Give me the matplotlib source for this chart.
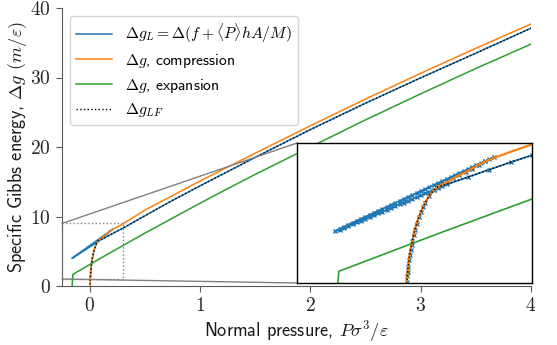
import matplotlib
matplotlib.use("Agg")
import matplotlib.pyplot as plt
from matplotlib.ticker import FuncFormatter
from matplotlib.patches import Rectangle, ConnectionPatch

plt.rcParams["font.family"] = ["cmss10", "DejaVu Sans"]
plt.rcParams["mathtext.fontset"] = "cm"
plt.rcParams["axes.formatter.use_mathtext"] = True
plt.rcParams["font.size"] = 13

# --- compression (gas branch, metastable beyond coexistence) ---
p_comp = [0.003, 0.004, 0.005, 0.006, 0.007, 0.008, 0.01, 0.0125, 0.015, 0.02,
          0.025, 0.03, 0.04, 0.05, 0.06, 0.07, 0.08, 0.1, 0.125, 0.15, 0.175,
          0.2, 0.25, 0.3, 0.5, 0.75, 1.0, 1.25, 1.5, 2.0, 2.5, 3.0, 3.5, 4.0]
g_comp = [-1.0, -0.3, 0.3, 0.75, 1.07, 1.4, 1.9, 2.4, 2.8, 3.4,
          3.95, 4.4, 5.05, 5.6, 6.0, 6.3, 6.5, 6.75, 7.1, 7.4, 7.75,
          8.05, 8.5, 8.92, 10.9, 13.0, 15.1, 17.1, 19.1, 23.05, 26.9, 30.6, 34.2, 37.7]

# --- expansion ---
p_exp = [-0.158, -0.152, -0.1, 0.0, 0.1, 0.2, 0.3, 0.5, 0.75, 1.0, 1.25, 1.5,
         2.0, 2.5, 3.0, 3.5, 4.0]
g_exp = [0.0, 1.67, 2.15, 3.08, 4.0, 4.9, 5.8, 7.6, 9.75, 11.9, 14.0, 16.05,
         20.0, 23.9, 27.65, 31.3, 34.8]

# --- Delta g_L from the film free energy ---
# gas part
p_L_gas = [0.006, 0.007, 0.008, 0.009, 0.01, 0.012, 0.014, 0.016, 0.018, 0.02,
           0.023, 0.026, 0.03, 0.035, 0.04, 0.045, 0.05, 0.06, 0.07, 0.08, 0.09,
           0.1, 0.115, 0.13, 0.145, 0.16, 0.175, 0.19]
g_L_gas = [0.75, 1.07, 1.4, 1.65, 1.9, 2.3, 2.6, 2.9, 3.15, 3.4,
           3.75, 4.05, 4.4, 4.75, 5.05, 5.35, 5.6, 6.0, 6.3, 6.5, 6.65,
           6.78, 6.98, 7.2, 7.35, 7.5, 7.75, 7.95]
# film under tension: down to negative pressure and back
p_L_loop = [0.21, 0.20, 0.19, 0.18, 0.17, 0.16, 0.15, 0.14, 0.13, 0.12, 0.11,
            0.10, 0.09, 0.08, 0.07, 0.06, 0.05, 0.04, 0.03, 0.02, 0.01, 0.00,
            -0.01, -0.02, -0.03, -0.04, -0.05, -0.06, -0.07, -0.08, -0.09,
            -0.10, -0.11, -0.12, -0.13, -0.14, -0.15, -0.16,
            -0.15, -0.14, -0.13, -0.12, -0.11, -0.10, -0.09, -0.08, -0.07,
            -0.06, -0.05, -0.04, -0.03, -0.02, -0.01, 0.00, 0.01, 0.02, 0.03,
            0.04, 0.05, 0.06, 0.07, 0.08, 0.09, 0.10]
g_L_loop = [8.18, 8.07, 7.95, 7.84, 7.73, 7.62, 7.50, 7.39, 7.28, 7.16, 7.05,
            6.94, 6.82, 6.71, 6.60, 6.48, 6.37, 6.26, 6.15, 6.03, 5.92, 5.81,
            5.69, 5.58, 5.47, 5.35, 5.24, 5.13, 5.02, 4.90, 4.79,
            4.68, 4.56, 4.45, 4.34, 4.22, 4.11, 3.97,
            4.05, 4.15, 4.26, 4.36, 4.46, 4.57, 4.67, 4.77, 4.88,
            4.98, 5.08, 5.19, 5.29, 5.39, 5.50, 5.60, 5.70, 5.81, 5.91,
            6.01, 6.12, 6.22, 6.32, 6.43, 6.53, 6.63]
# liquid film
p_L_liq = [0.15, 0.2, 0.25, 0.3, 0.35, 0.4, 0.5, 0.75, 1.0, 1.25, 1.5, 2.0,
           2.5, 3.0, 3.5, 4.0]
g_L_liq = [7.05, 7.48, 7.9, 8.3, 8.75, 9.2, 10.1, 12.3, 14.4, 16.45, 18.5, 22.5,
           26.3, 29.95, 33.5, 37.1]

# --- Delta g_LF: lower envelope of gas and liquid branches ---
p_LF = [0.004, 0.005, 0.006, 0.007, 0.008, 0.01, 0.0125, 0.015, 0.02, 0.025,
        0.03, 0.04, 0.05, 0.06, 0.07, 0.08, 0.1, 0.15, 0.2, 0.25, 0.3, 0.35,
        0.4, 0.5, 0.75, 1.0, 1.25, 1.5, 2.0, 2.5, 3.0, 3.5, 4.0]
g_LF = [-0.3, 0.3, 0.75, 1.07, 1.4, 1.9, 2.4, 2.8, 3.4, 3.95,
        4.4, 5.05, 5.6, 6.0, 6.3, 6.5, 6.65, 7.05, 7.48, 7.9, 8.3, 8.75,
        9.2, 10.1, 12.3, 14.4, 16.45, 18.5, 22.5, 26.3, 29.95, 33.5, 37.1]

x_ticks = [0, 1, 2, 3, 4]
y_ticks = [0, 10, 20, 30, 40]
zoom_x = (-0.25, 0.3)
zoom_y = (1.0, 9.0)

labels = [r"$\Delta g_L = \Delta(f + \langle P\rangle hA/M)$",
          r"$\Delta g$, compression",
          r"$\Delta g$, expansion",
          r"$\Delta g_{LF}$"]

C_BLUE, C_ORANGE, C_GREEN = "#1f77b4", "#ff7f0e", "#2ca02c"

p_L = p_L_gas + p_L_loop + p_L_liq
g_L = g_L_gas + g_L_loop + g_L_liq

fig = plt.figure(figsize=(5.57, 3.45), dpi=100)
ax = fig.add_axes([62 / 557, 59 / 345, 469 / 557, 278 / 345])

ax.plot(p_L, g_L, color=C_BLUE, lw=1.1, label=labels[0])
ax.plot(p_comp, g_comp, color=C_ORANGE, lw=1.1, label=labels[1])
ax.plot(p_exp, g_exp, color=C_GREEN, lw=1.1, label=labels[2])
ax.plot(p_LF, g_LF, color="black", lw=1.0, ls=":", label=labels[3])

ax.set_xlim(-0.25, 4)
ax.set_ylim(0, 40)
ax.set_xticks(x_ticks)
ax.set_yticks(y_ticks)
fmt = FuncFormatter(lambda v, pos: f"${v:g}$")
ax.xaxis.set_major_formatter(fmt)
ax.yaxis.set_major_formatter(fmt)
for side in ("top", "right"):
    ax.spines[side].set_visible(False)
for side in ("left", "bottom"):
    ax.spines[side].set_color("0.35")
ax.tick_params(colors="0.35", labelcolor="0.15", direction="out", length=4.5,
               labelsize=14)
ax.set_xlabel(r"Normal pressure, $P\sigma^3/\varepsilon$", color="0.1",
              fontsize=13.2, labelpad=2)
ax.set_ylabel(r"Specific Gibbs energy, $\Delta g$ $(m/\varepsilon)$", color="0.1",
              fontsize=13.2, labelpad=1)

leg = ax.legend(loc="upper left", fontsize=11.3, frameon=True, fancybox=True,
                handlelength=2.3, handletextpad=0.8, borderaxespad=0.5,
                labelspacing=0.42)
leg.get_frame().set_edgecolor("0.8")

# zoomed window on the low-pressure region
axin = fig.add_axes([297 / 557, 62 / 345, 235 / 557, 140 / 345], zorder=5)
axin.plot(p_L, g_L, color=C_BLUE, lw=1.3, marker="x", ms=3.5, mew=1.0)
axin.plot(p_comp, g_comp, color=C_ORANGE, lw=1.6)
axin.plot(p_exp, g_exp, color=C_GREEN, lw=1.2)
axin.plot(p_LF, g_LF, color="black", lw=1.0, ls=":")
axin.set_xlim(*zoom_x)
axin.set_ylim(*zoom_y)
axin.set_xticks([])
axin.set_yticks([])
for s in axin.spines.values():
    s.set_color("black")
    s.set_linewidth(1.0)

rect = Rectangle((zoom_x[0], zoom_y[0]), zoom_x[1] - zoom_x[0], zoom_y[1] - zoom_y[0],
                 fill=False, edgecolor="0.5", lw=1.0, ls=":", zorder=4, clip_on=False)
ax.add_patch(rect)
for yd, ya in ((zoom_y[1], 1.0), (zoom_y[0], 0.0)):
    con = ConnectionPatch(xyA=(zoom_x[0], yd), coordsA=ax.transData,
                          xyB=(0.0, ya), coordsB=axin.transAxes,
                          color="0.5", lw=1.0, zorder=4)
    fig.add_artist(con)

fig.savefig("out.png", dpi=100)
